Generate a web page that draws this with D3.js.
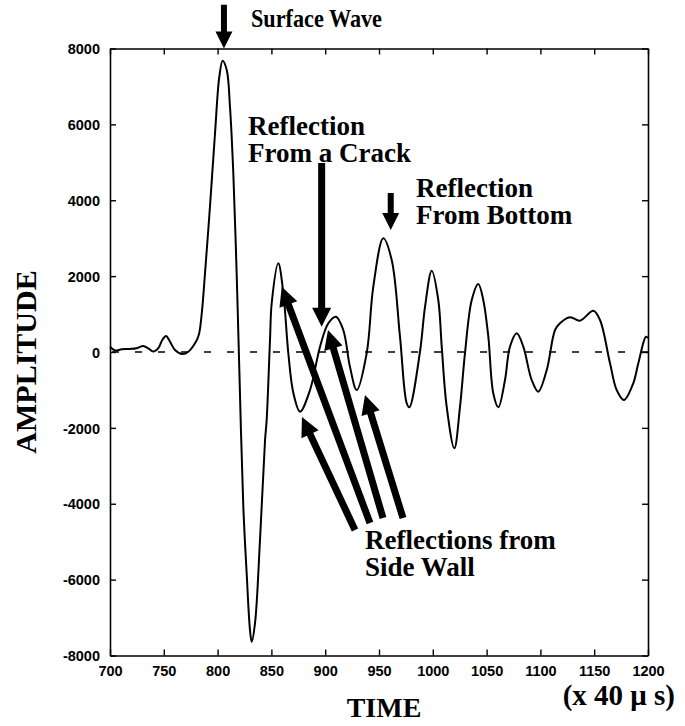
<!DOCTYPE html>
<html>
<head>
<meta charset="utf-8">
<script src="https://cdn.jsdelivr.net/npm/d3@7"></script>
<style>
  html, body { margin: 0; padding: 0; background: #fff; }
  svg { display: block; }
</style>
</head>
<body>
<svg id="chart" width="685" height="726"></svg>
<script>
// ---- data ----
const times = [700,704.6,710.9,718.6,724.8,730.9,735.6,740.2,744.9,748.6,752,755.8,760.4,767.2,772.8,779,782.5,785.2,788.3,792.9,797.6,801.6,804.7,808.5,811.5,814.6,817.7,820.2,823.9,827,830.1,831.7,834.8,839.4,844.1,845.6,848.7,850.3,856.4,861.1,865.7,870.4,876.6,885.9,895.2,902.9,910,916.8,923,929.3,938.6,944.7,954,961.8,969.5,975.7,978.2,988.1,992.8,999,1005.1,1008.3,1012.9,1020,1025.3,1029.9,1036.2,1042.3,1046.9,1051.6,1056.2,1060.9,1067.1,1071.7,1078,1084.1,1091.9,1098,1105.9,1113.6,1118.2,1127.5,1136.8,1149.2,1155.4,1164.7,1170.9,1177.7,1186.3,1191,1198.1,1200];
const amplitude = [140,40,70,80,100,160,95,10,100,316,422,272,53,-53,8,230,450,1000,2075,3830,5765,7257,7679,7434,6466,4711,2075,-474,-4078,-5826,-7328,-7637,-7143,-4956,-2320,-1792,316,1292,2338,1555,-26,-1081,-1574,-1002,140,757,931,580,-387,-1002,-26,1721,2997,2425,403,-1344,-1458,8,1194,2143,1371,140,-1442,-2538,-1442,-34,1371,1793,1371,403,-1089,-1458,-738,140,493,140,-738,-1046,-474,580,757,915,825,1089,844,-298,-1002,-1265,-825,-298,403,370];
const xTicks = [700,750,800,850,900,950,1000,1050,1100,1150,1200];
const yTicks = [-8000,-6000,-4000,-2000,0,2000,4000,6000,8000];

// annotation arrows: [tailTime, tailAmp, tipTime, tipAmp]
const arrowsBig = [
  [896.7, 4982, 896.7, 667],
  [927.7, -4692, 878.4, -1713],
  [941.6, -4508, 859.6, 1721],
  [953.7, -4376, 902.6, 580],
  [972.3, -4376, 937.0, -1133]
];
const arrowsSmall = [
  [805.9, 9150, 805.9, 8000],
  [960.9, 4191, 960.9, 3216]
];
// annotation labels: [lines, time, amp of first baseline]
const labels = [
  [["Reflection", "From a Crack"], 828.3, 5720],
  [["Reflection", "From Bottom"], 984.4, 4086],
  [["Reflections from", "Side Wall"], 937, -5193]
];
const surfaceLabel = ["Surface Wave", 831, 8567];

// ---- chart ----
const svg = d3.select("#chart");
const x = d3.scaleLinear().domain([700, 1200]).range([110, 648]);
const y = d3.scaleLinear().domain([-8000, 8000]).range([655.5, 48.5]);
const L = 110, R = 648, T = 48.5, B = 655.5;

const tickFont = "'Liberation Sans', Arial, Helvetica, sans-serif";
const serif = "'Liberation Serif', 'Times New Roman', Times, serif";
const fmt = d => String(d);

// zero dashed line
svg.append("line")
  .attr("x1", L).attr("x2", R).attr("y1", y(0)).attr("y2", y(0))
  .attr("stroke", "#000").attr("stroke-width", 1.3)
  .attr("stroke-dasharray", "7,16").attr("stroke-dashoffset", -2);

// axes with inward ticks
const gB = svg.append("g").attr("transform", `translate(0,${B})`)
  .call(d3.axisBottom(x).tickValues(xTicks).tickFormat(fmt).tickSizeInner(-6).tickSizeOuter(0).tickPadding(10));
const gT = svg.append("g").attr("transform", `translate(0,${T})`)
  .call(d3.axisTop(x).tickValues(xTicks).tickSizeInner(-6).tickSizeOuter(0).tickFormat(""));
const gL = svg.append("g").attr("transform", `translate(${L},0)`)
  .call(d3.axisLeft(y).tickValues(yTicks).tickFormat(fmt).tickSizeInner(-6).tickSizeOuter(0).tickPadding(10));
const gR = svg.append("g").attr("transform", `translate(${R},0)`)
  .call(d3.axisRight(y).tickValues(yTicks).tickSizeInner(-6).tickSizeOuter(0).tickFormat(""));

[gB, gT, gL, gR].forEach(g => {
  g.select(".domain").attr("stroke", "#000").attr("stroke-width", 1.6);
  g.selectAll(".tick line").attr("stroke", "#000").attr("stroke-width", 1.4);
  g.selectAll(".tick text")
    .attr("fill", "#000")
    .style("font-family", tickFont)
    .style("font-weight", "bold")
    .style("font-size", "14.5px");
});
gL.selectAll(".tick text").attr("dy", "0.36em");

// waveform
const pts = times.map((t, i) => [t, amplitude[i]]);
const line = d3.line().x(d => x(d[0])).y(d => y(d[1])).curve(d3.curveCatmullRom.alpha(0.5));
svg.append("path").datum(pts)
  .attr("d", line)
  .attr("fill", "none").attr("stroke", "#000").attr("stroke-width", 2);

// arrows
function arrowPath(x0, y0, x1, y1, w, hl, hw) {
  const dx = x1 - x0, dy = y1 - y0, len = Math.hypot(dx, dy);
  const ux = dx / len, uy = dy / len, nx = -uy, ny = ux;
  const bx = x1 - ux * hl, by = y1 - uy * hl;
  const p = [
    [x0 + nx * w / 2, y0 + ny * w / 2],
    [bx + nx * w / 2, by + ny * w / 2],
    [bx + nx * hw / 2, by + ny * hw / 2],
    [x1, y1],
    [bx - nx * hw / 2, by - ny * hw / 2],
    [bx - nx * w / 2, by - ny * w / 2],
    [x0 - nx * w / 2, y0 - ny * w / 2]
  ];
  return "M" + p.map(q => q.join(",")).join("L") + "Z";
}
svg.append("g").selectAll("path").data(arrowsBig).join("path")
  .attr("d", d => arrowPath(x(d[0]), y(d[1]), x(d[2]), y(d[3]), 7, 19, 19))
  .attr("fill", "#000");
svg.append("g").selectAll("path").data(arrowsSmall).join("path")
  .attr("d", d => arrowPath(x(d[0]), y(d[1]), x(d[2]), y(d[3]), 6, 17, 17))
  .attr("fill", "#000");

// annotation labels (two-line, single text element)
const lab = svg.append("g").selectAll("text").data(labels).join("text")
  .attr("x", d => x(d[1])).attr("y", d => y(d[2]))
  .style("font-family", serif).style("font-weight", "bold").style("font-size", "27px")
  .attr("fill", "#000");
lab.selectAll("tspan").data(d => d[0].map(s => [s, d[1]])).join("tspan")
  .attr("x", d => x(d[1]))
  .attr("dy", (d, i) => i === 0 ? 0 : 27)
  .text(d => d[0]);

svg.append("text")
  .attr("x", x(surfaceLabel[1])).attr("y", y(surfaceLabel[2]))
  .attr("textLength", 131).attr("lengthAdjust", "spacingAndGlyphs")
  .text(surfaceLabel[0])
  .style("font-family", serif).style("font-weight", "bold").style("font-size", "26px")
  .attr("fill", "#000");

// axis titles
svg.append("text")
  .attr("transform", `translate(36,${(T + B) / 2 + 10}) rotate(-90)`)
  .attr("text-anchor", "middle")
  .text("AMPLITUDE")
  .style("font-family", serif).style("font-weight", "bold").style("font-size", "30px");
svg.append("text")
  .attr("x", (L + R) / 2 + 5).attr("y", 717)
  .attr("text-anchor", "middle")
  .text("TIME")
  .style("font-family", serif).style("font-weight", "bold").style("font-size", "28px");
svg.append("text")
  .attr("x", 675).attr("y", 705)
  .attr("text-anchor", "end")
  .text("(x 40 μ s)")
  .style("font-family", serif).style("font-weight", "bold").style("font-size", "29px");
</script>
</body>
</html>
